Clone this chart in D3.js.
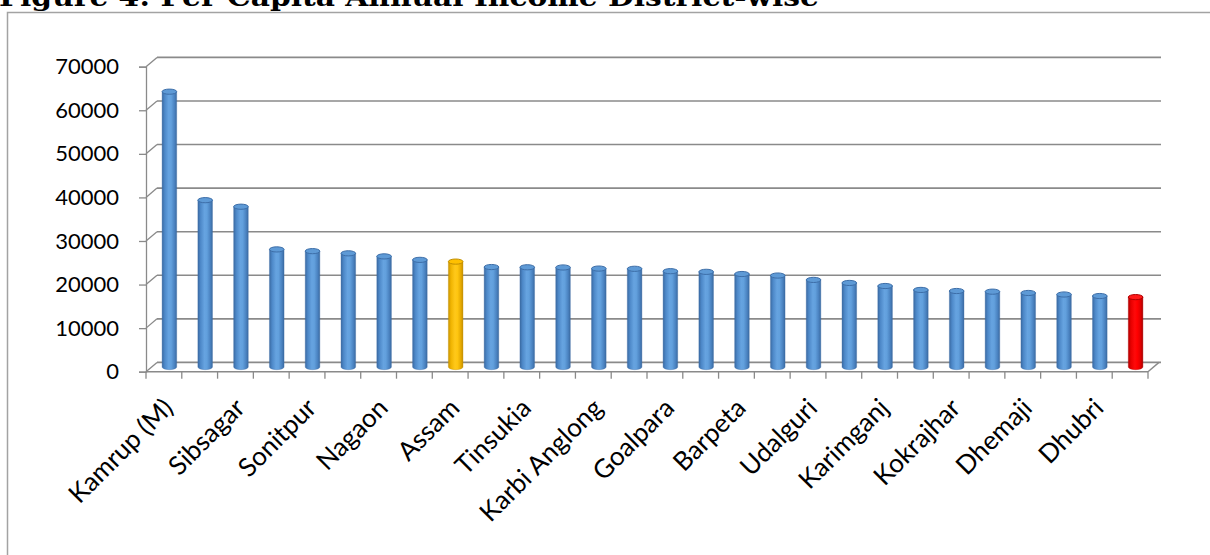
<!DOCTYPE html>
<html>
<head>
<meta charset="utf-8">
<script src="https://cdn.jsdelivr.net/npm/d3@7"></script>
<style>
  html, body { margin: 0; padding: 0; background: #fff; }
  svg { display: block; }
</style>
</head>
<body>
<svg id="chart" width="1210" height="555"></svg>
<script>
// District-wise per capita annual income (Rs.)
const districts = [
  "Kamrup (M)", "Jorhat", "Sibsagar", "Golaghat", "Sonitpur", "Dibrugarh",
  "Nagaon", "Bongaigaon", "Assam", "Kamrup", "Tinsukia", "Nalbari",
  "Karbi Anglong", "Cachar", "Goalpara", "Darrang", "Barpeta", "Lakhimpur",
  "Udalguri", "Dima Hasao", "Karimganj", "Morigaon", "Kokrajhar", "Hailakandi",
  "Dhemaji", "Chirang", "Dhubri", "Baksa"
];
const income = [
  63200, 38300, 36800, 27000, 26600, 26100,
  25400, 24600, 24200, 22950, 22900, 22850,
  22600, 22550, 22000, 21850, 21350, 21000,
  20000, 19300, 18600, 17700, 17450, 17300,
  17000, 16650, 16300, 16050
];
const yTicks = [0, 10000, 20000, 30000, 40000, 50000, 60000, 70000];
// Only every second district is labelled on the axis
const shownLabels = districts.filter((d, i) => i % 2 === 0);
const stateName = "Assam";
const lowestName = "Baksa";

const svg = d3.select("#chart");
const W = 1210, H = 555;

// 3-D depth offset of the back wall relative to the front plane
const DX = 11, DY = -9.3;

const x = d3.scaleBand().domain(districts).range([146, 1148]).padding(0);
const y = d3.scaleLinear().domain([0, 70000]).range([371.7, 66.7]);

const labelFont = "Lato, 'Open Sans', sans-serif";

// ---- gradients for the cylinders
const defs = svg.append("defs");
function cylGradient(id, stops) {
  const g = defs.append("linearGradient").attr("id", id)
    .attr("x1", "0%").attr("x2", "100%").attr("y1", "0%").attr("y2", "0%");
  stops.forEach(s => g.append("stop").attr("offset", s[0]).attr("stop-color", s[1]));
}
cylGradient("gBlue", [["0%", "#3a6aa2"], ["18%", "#4d88c8"], ["45%", "#66a3e0"], ["62%", "#62a0dd"], ["85%", "#4a82c0"], ["100%", "#3b6aa0"]]);
cylGradient("gGold", [["0%", "#c99400"], ["18%", "#f0b400"], ["45%", "#ffc81a"], ["62%", "#ffc610"], ["85%", "#e6aa00"], ["100%", "#c69000"]]);
cylGradient("gRed", [["0%", "#b00000"], ["18%", "#e60000"], ["45%", "#ff0a0a"], ["62%", "#ff0000"], ["85%", "#dd0000"], ["100%", "#aa0000"]]);

// ---- outer frame
svg.append("rect").attr("x", 0).attr("y", 0).attr("width", W).attr("height", H).attr("fill", "#fff");
svg.append("rect")
  .attr("x", 7.5).attr("y", 12.5).attr("width", W + 20).attr("height", H + 20)
  .attr("fill", "none").attr("stroke", "#a3a3a3").attr("stroke-width", 1.5);

// ---- title (runs off the top edge)
svg.append("text")
  .attr("x", -1).attr("y", 6)
  .attr("font-family", "'DejaVu Serif', 'Liberation Serif', serif")
  .attr("font-weight", "bold")
  .attr("font-size", 26)
  .attr("textLength", 820)
  .attr("lengthAdjust", "spacingAndGlyphs")
  .attr("fill", "#000")
  .text("Figure 4: Per Capita Annual Income District-wise");

const grid = svg.append("g").attr("stroke", "#8a8a8a").attr("fill", "none");
const x0 = x.range()[0], x1 = x.range()[1];

// back-wall gridlines
grid.selectAll("line.back").data(yTicks).join("line")
  .attr("class", "back")
  .attr("x1", x0 + DX).attr("x2", x1 + DX + 2)
  .attr("y1", d => y(d) + DY).attr("y2", d => y(d) + DY)
  .attr("stroke-width", 1.6);

// side-wall connectors from the value axis to the back wall
grid.selectAll("line.side").data(yTicks).join("line")
  .attr("class", "side")
  .attr("x1", x0).attr("x2", x0 + DX)
  .attr("y1", d => y(d)).attr("y2", d => y(d) + DY)
  .attr("stroke-width", 1.3);

// floor: front edge and right edge
grid.append("line")
  .attr("x1", x0).attr("x2", x1)
  .attr("y1", y(0)).attr("y2", y(0))
  .attr("stroke-width", 1.4);
grid.append("line")
  .attr("x1", x1).attr("x2", x1 + DX)
  .attr("y1", y(0)).attr("y2", y(0) + DY)
  .attr("stroke-width", 1.4);

// ---- value axis
const yAxis = d3.axisLeft(y).tickValues(yTicks).tickSize(7).tickPadding(20).tickFormat(d3.format("d"));
const gy = svg.append("g").attr("transform", `translate(${x0},0)`).call(yAxis);
gy.select(".domain").attr("stroke", "#8a8a8a").attr("stroke-width", 1.3);
gy.selectAll(".tick line").attr("stroke", "#8a8a8a").attr("stroke-width", 1.3);
gy.selectAll(".tick text")
  .attr("font-family", labelFont).attr("font-size", 22).attr("fill", "#000");

// ---- category axis ticks at band boundaries
const bounds = districts.map(d => x(d)).concat([x1]);
svg.append("g").selectAll("line").data(bounds).join("line")
  .attr("x1", d => d).attr("x2", d => d)
  .attr("y1", y(0)).attr("y2", y(0) + 7)
  .attr("stroke", "#8a8a8a").attr("stroke-width", 1.3);

// rotated category labels
svg.append("g").selectAll("text").data(shownLabels).join("text")
  .attr("transform", d => `translate(${x(d) + x.bandwidth() / 2 - 2},${y(0) + 25}) rotate(-45)`)
  .attr("text-anchor", "end")
  .attr("dy", "0.7em")
  .attr("font-family", labelFont).attr("font-size", 26).attr("fill", "#000")
  .text(d => d);

// ---- cylinders (drawn in the mid-depth plane)
const R = 7.3, RY = 2.6;
const bars = svg.append("g");
districts.forEach((d, i) => {
  const v = income[i];
  const cx = x(d) + x.bandwidth() / 2 + DX / 2;
  const yb = y(0) + DY / 2;
  const yt = y(v) + DY / 2;
  const fill = d === stateName ? "url(#gGold)" : d === lowestName ? "url(#gRed)" : "url(#gBlue)";
  const capFill = d === stateName ? "#ffc000" : d === lowestName ? "#ff1a1a" : "#5e9ad6";
  const capStroke = d === stateName ? "#c08e00" : d === lowestName ? "#b00000" : "#3d6ea8";
  const body = `M${cx - R},${yt} L${cx - R},${yb} A${R},${RY} 0 0 0 ${cx + R},${yb} L${cx + R},${yt} Z`;
  bars.append("path").attr("d", body).attr("fill", fill)
    .attr("stroke", capStroke).attr("stroke-width", 0.6).attr("stroke-opacity", 0.6);
  bars.append("ellipse")
    .attr("cx", cx).attr("cy", yt).attr("rx", R).attr("ry", RY)
    .attr("fill", capFill).attr("stroke", capStroke).attr("stroke-width", 1);
});
</script>
</body>
</html>
